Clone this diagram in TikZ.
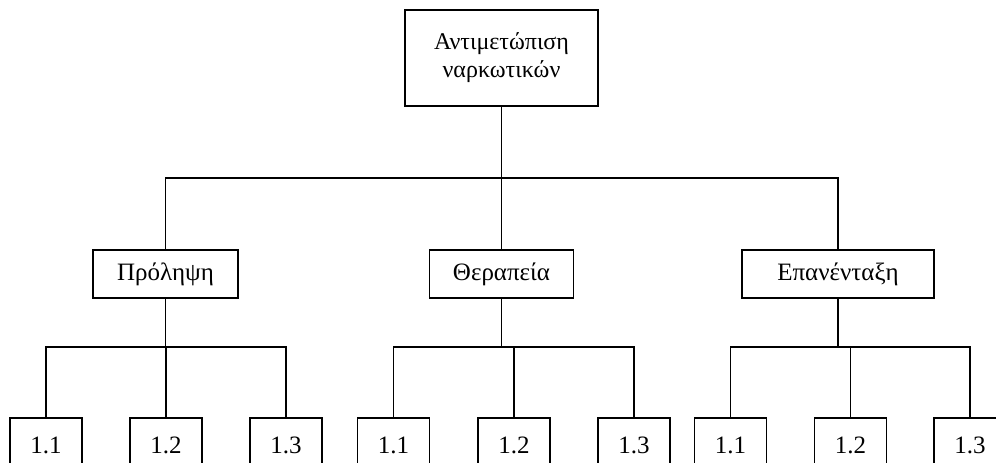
\documentclass[tikz,border=0pt]{standalone}
\usepackage{fontspec}
\setmainfont{Liberation Serif}
\begin{document}
\begin{tikzpicture}[x=1pt,y=-1pt,
  box/.style={draw,line width=1.4pt,fill=white,inner sep=0pt,align=center,font=\fontsize{25}{29}\selectfont},
  midbox/.style={box,minimum height=48pt},
  leaf/.style={box,minimum width=72pt,minimum height=54pt},
  conn/.style={line width=1.4pt}]
\useasboundingbox (0,0) rectangle (996,463);
\clip (0,0) rectangle (996,463);
\coordinate (b0) at (0,178);
\coordinate (b1) at (0,347);
\node[box,minimum width=193pt,minimum height=96pt,font=\fontsize{24}{28}\selectfont] (top) at (501.5,58) {Αντιμετώπιση\\ναρκωτικών};
\node[midbox,minimum width=145pt] (P) at (165.5,274) {Πρόληψη};
\node[midbox,minimum width=144pt] (T) at (501.5,274) {Θεραπεία};
\node[midbox,minimum width=192pt] (E) at (838,274) {Επανένταξη};
\node[leaf] (P1) at (46,445) {1.1};
\node[leaf] (P2) at (166,445) {1.2};
\node[leaf] (P3) at (286,445) {1.3};
\node[leaf] (T1) at (393.5,445) {1.1};
\node[leaf] (T2) at (514,445) {1.2};
\node[leaf] (T3) at (634,445) {1.3};
\node[leaf] (E1) at (730.5,445) {1.1};
\node[leaf] (E2) at (850.5,445) {1.2};
\node[leaf] (E3) at (970,445) {1.3};
% top level
\draw[conn] (top.south) -- (T.north);
\draw[conn] (P.north) -- (P.north |- b0) -- (E.north |- b0) -- (E.north);
% Prolipsi
\draw[conn] (P.south) -- (P.south |- b1);
\draw[conn] (P1.north) -- (P1.north |- b1) -- (P3.north |- b1) -- (P3.north);
\draw[conn] (P2.north) -- (P2.north |- b1);
% Therapeia
\draw[conn] (T.south) -- (T.south |- b1);
\draw[conn] (T1.north) -- (T1.north |- b1) -- (T3.north |- b1) -- (T3.north);
\draw[conn] (T2.north) -- (T2.north |- b1);
% Epanentaxi
\draw[conn] (E.south) -- (E.south |- b1);
\draw[conn] (E1.north) -- (E1.north |- b1) -- (E3.north |- b1) -- (E3.north);
\draw[conn] (E2.north) -- (E2.north |- b1);
\end{tikzpicture}
\end{document}
